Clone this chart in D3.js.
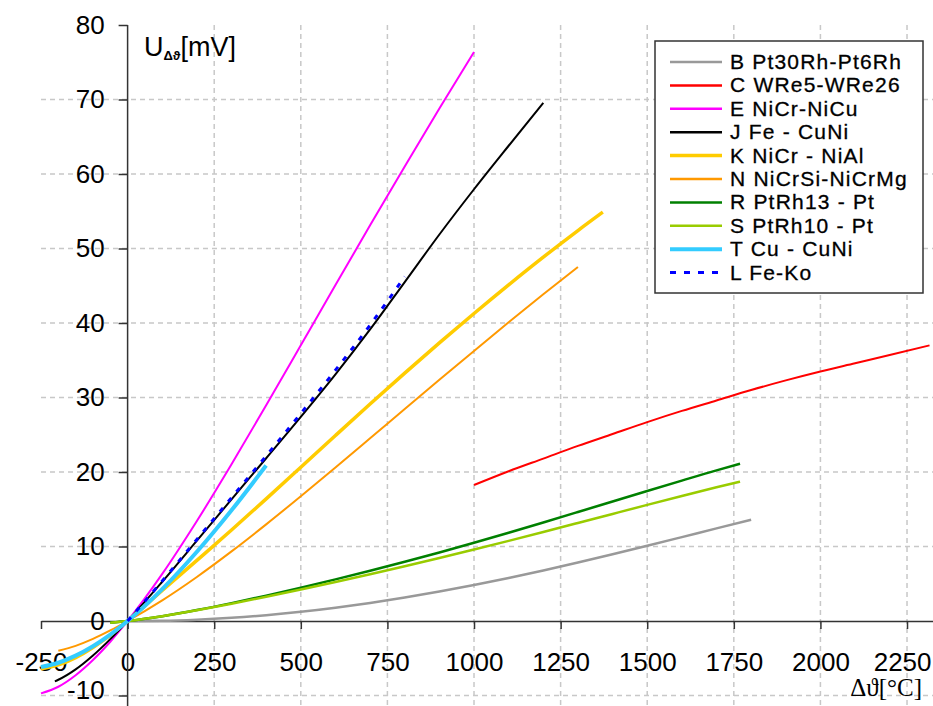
<!DOCTYPE html>
<html>
<head>
<meta charset="utf-8">
<script src="https://cdn.jsdelivr.net/npm/d3@7"></script>
<style>
  body { margin: 0; background: #fff; }
  svg { display: block; font-family: "Liberation Sans", Arial, sans-serif; }
</style>
</head>
<body>
<div id="chart"></div>
<script>
// series data: temperature [°C] and thermo-voltage [mV]
const seriesNames = ["B Pt30Rh-Pt6Rh", "C WRe5-WRe26", "E NiCr-NiCu", "J Fe - CuNi",
  "K NiCr - NiAl", "N NiCrSi-NiCrMg", "R PtRh13 - Pt", "S PtRh10 - Pt", "T Cu - CuNi", "L Fe-Ko"]

const tB = [0, 100, 200, 300, 400, 500, 600, 700, 800, 900, 1000, 1100, 1200, 1300, 1400, 1500, 1600, 1700, 1800]
const uB = [0, 0.033, 0.178, 0.431, 0.787, 1.242, 1.792, 2.431, 3.154, 3.957, 4.834, 5.780, 6.786, 7.848, 8.956, 10.099, 11.263, 12.433, 13.591]

const tC = [1000, 1100, 1200, 1300, 1400, 1500, 1600, 1700, 1800, 1900, 2000, 2100, 2200, 2315]
const uC = [18.25, 20.1, 21.8, 23.5, 25.1, 26.7, 28.2, 29.6, 31.0, 32.3, 33.5, 34.6, 35.7, 37.0]

const tE = [-250, -200, -150, -100, -50, 0, 100, 200, 300, 400, 500, 600, 700, 800, 900, 1000]
const uE = [-9.718, -8.825, -7.279, -5.237, -2.787, 0, 6.319, 13.421, 21.036, 28.946, 37.005, 45.093, 53.112, 61.017, 68.787, 76.373]

const tJ = [-210, -200, -150, -100, -50, 0, 100, 200, 300, 400, 500, 600, 700, 800, 900, 1000, 1100, 1200]
const uJ = [-8.095, -7.890, -6.500, -4.633, -2.431, 0, 5.269, 10.779, 16.327, 21.848, 27.393, 33.102, 39.132, 45.494, 51.877, 57.953, 63.792, 69.553]

const tK = [-250, -200, -150, -100, -50, 0, 100, 200, 300, 400, 500, 600, 700, 800, 900, 1000, 1100, 1200, 1300, 1372]
const uK = [-6.404, -5.891, -4.913, -3.554, -1.889, 0, 4.096, 8.138, 12.209, 16.397, 20.644, 24.905, 29.129, 33.275, 37.326, 41.276, 45.119, 48.838, 52.410, 54.886]

const tN = [-200, -150, -100, -50, 0, 100, 200, 300, 400, 500, 600, 700, 800, 900, 1000, 1100, 1200, 1300]
const uN = [-3.990, -3.336, -2.407, -1.269, 0, 2.774, 5.913, 9.341, 12.974, 16.748, 20.613, 24.527, 28.455, 32.371, 36.256, 40.087, 43.846, 47.513]

const tR = [-50, 0, 100, 200, 300, 400, 500, 600, 700, 800, 900, 1000, 1100, 1200, 1300, 1400, 1500, 1600, 1700, 1768]
const uR = [-0.226, 0, 0.647, 1.469, 2.401, 3.408, 4.471, 5.583, 6.743, 7.950, 9.205, 10.506, 11.850, 13.228, 14.629, 16.040, 17.451, 18.849, 20.222, 21.101]

const tS = [-50, 0, 100, 200, 300, 400, 500, 600, 700, 800, 900, 1000, 1100, 1200, 1300, 1400, 1500, 1600, 1700, 1768]
const uS = [-0.236, 0, 0.646, 1.441, 2.323, 3.259, 4.233, 5.239, 6.275, 7.345, 8.449, 9.587, 10.757, 11.951, 13.159, 14.373, 15.582, 16.777, 17.947, 18.693]

const tT = [-250, -200, -150, -100, -50, 0, 100, 200, 300, 400]
const uT = [-6.180, -5.603, -4.648, -3.379, -1.819, 0, 4.279, 9.288, 14.862, 20.872]

const tL = [0, 100, 200, 300, 400, 500, 600, 700, 800]
const uL = [0, 5.37, 10.95, 16.56, 22.16, 27.85, 33.67, 39.72, 46.22]

const xTicks = [-250, 0, 250, 500, 750, 1000, 1250, 1500, 1750, 2000, 2250]
const yTicks = [-10, 0, 10, 20, 30, 40, 50, 60, 70, 80]

const temps = [tB, tC, tE, tJ, tK, tN, tR, tS, tT, tL]
const volts = [uB, uC, uE, uJ, uK, uN, uR, uS, uT, uL]
const colors = ["#999999", "#ff0000", "#ff00ff", "#000000", "#ffcc00", "#ff9900", "#008000", "#99cc00", "#33ccff", "#0000ff"]
const widths = [2.5, 2, 2, 2, 3.5, 2, 2.5, 2.5, 4, 3]

const width = 933
const height = 706

const x = d3.scaleLinear().domain([-250, 2325]).range([41, 933])
const y = d3.scaleLinear().domain([-10, 80]).range([695.5, 25])

const svg = d3.select("#chart").append("svg")
  .attr("width", width)
  .attr("height", height)

// grid
svg.append("g")
  .selectAll("line")
  .data(xTicks.filter(d => d > 0))
  .enter()
  .append("line")
  .attr("x1", d => x(d)).attr("x2", d => x(d))
  .attr("y1", y(80)).attr("y2", height)
  .attr("stroke", "#c8c8c8").attr("stroke-width", 1.5)
  .attr("stroke-dasharray", "5,4")

svg.append("g")
  .selectAll("line")
  .data(yTicks.filter(d => d !== 0 && d !== 80))
  .enter()
  .append("line")
  .attr("x1", x(-250)).attr("x2", width)
  .attr("y1", d => y(d)).attr("y2", d => y(d))
  .attr("stroke", "#c8c8c8").attr("stroke-width", 1.5)
  .attr("stroke-dasharray", "5,4")

// axes
const fmt = d => String(d) // plain hyphen minus, no thousands separator
const xAxis = d3.axisBottom(x).tickValues(xTicks).tickFormat(fmt).tickSize(8).tickSizeOuter(0).tickPadding(24)
const gx = svg.append("g").attr("transform", `translate(0,${y(0)})`).call(xAxis)

const yAxis = d3.axisLeft(y).tickValues(yTicks).tickFormat(fmt).tickSize(9).tickSizeOuter(0).tickPadding(14)
const gy = svg.append("g").attr("transform", `translate(${x(0)},0)`).call(yAxis)
gy.select(".domain").remove()
gy.append("line")
  .attr("x1", 0).attr("x2", 0)
  .attr("y1", y(80)).attr("y2", height)
  .attr("stroke", "#000")

for (const g of [gx, gy]) {
  g.selectAll("text").attr("font-size", 26).attr("font-family", "Liberation Sans, Arial, sans-serif").attr("fill", "#000")
  g.selectAll("line").attr("stroke", "#333").attr("stroke-width", 1.5)
  g.select(".domain").attr("stroke", "#333").attr("stroke-width", 1.5)
}

// last x label kept inside the picture, -10 label nudged up a little
gx.selectAll(".tick text").filter(d => d === 2250).attr("text-anchor", "end").attr("x", 24)
gy.selectAll(".tick text").filter(d => d === -10).attr("y", -5)

// curves
const line = d3.line()
  .x(d => x(d[0]))
  .y(d => y(d[1]))
  .curve(d3.curveMonotoneX)

temps.forEach((t, i) => {
  const pts = t.map((v, j) => [v, volts[i][j]])
  svg.append("path")
    .datum(pts)
    .attr("d", line)
    .attr("fill", "none")
    .attr("stroke", colors[i])
    .attr("stroke-width", widths[i])
    .attr("stroke-dasharray", i === 9 ? "5,8" : null)
})

// axis titles
const yt = svg.append("text").attr("x", 144).attr("y", 56).attr("font-size", 27).attr("fill", "#000")
yt.append("tspan").text("U")
yt.append("tspan").text("Δϑ").attr("font-size", 13).attr("font-weight", "bold").attr("dy", 4)
yt.append("tspan").text("[mV]").attr("dy", -4)

svg.append("text")
  .attr("x", 922).attr("y", 696)
  .attr("text-anchor", "end")
  .attr("font-family", "Liberation Serif, Times New Roman, serif")
  .attr("font-size", 25)
  .attr("fill", "#000")
  .text("Δϑ[°C]")

// legend
const legend = svg.append("g")
legend.append("rect")
  .attr("x", 655).attr("y", 41)
  .attr("width", 268).attr("height", 252)
  .attr("fill", "#fff")
  .attr("stroke", "#333").attr("stroke-width", 1.5)

seriesNames.forEach((name, i) => {
  const ry = 62 + i * 23.4
  legend.append("line")
    .attr("x1", 670).attr("x2", 722)
    .attr("y1", ry).attr("y2", ry)
    .attr("stroke", colors[i])
    .attr("stroke-width", i === 9 ? 3 : Math.max(widths[i], 2.5))
    .attr("stroke-dasharray", i === 9 ? "6,8" : null)
  legend.append("text")
    .attr("x", 730).attr("y", ry + 7)
    .attr("font-size", 21)
    .attr("letter-spacing", 1.2)
    .attr("stroke", "#000").attr("stroke-width", 0.3)
    .attr("fill", "#000")
    .text(name)
})
</script>
</body>
</html>
